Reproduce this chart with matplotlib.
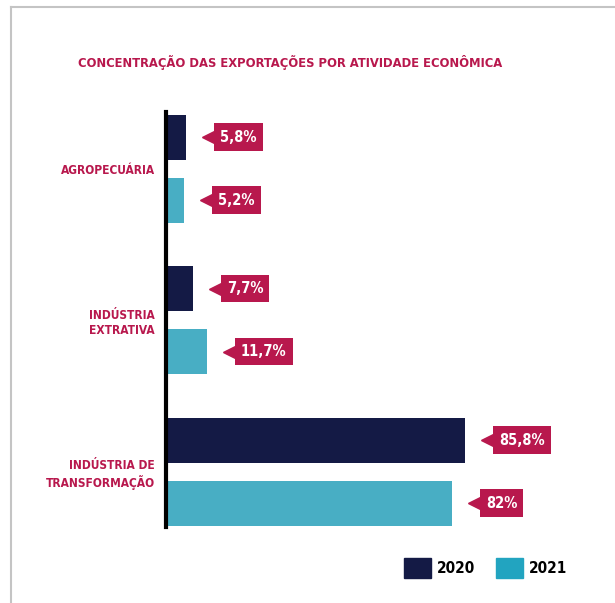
import matplotlib
matplotlib.use('Agg')
import matplotlib.pyplot as plt
from matplotlib.lines import Line2D
from matplotlib.patches import Patch
from matplotlib import transforms
import numpy

categories = ['AGROPECUÁRIA', 'INDÚSTRIA\nEXTRATIVA', 'INDÚSTRIA DE\nTRANSFORMAÇÃO']
values_2020 = [5.8, 7.7, 85.8]
values_2021 = [5.2, 11.7, 82.0]
labels_2020 = ['5,8%', '7,7%', '85,8%']
labels_2021 = ['5,2%', '11,7%', '82%']
years = ['2020', '2021']

navy = '#141a45'
teal = '#48aec4'
teal_legend = '#22a4c0'
crimson = '#b8184d'

plt.rcParams['font.family'] = ['DejaVu Sans']
plt.rcParams['font.stretch'] = 'condensed'

fig = plt.figure(figsize=(6.15, 6.03), dpi=100)
W, H = 615.0, 603.0

# axes placed so that the bars land where they are in the original
ax = fig.add_axes([166 / W, 1 - 527 / H, 434 / W, 415 / H])
y = numpy.arange(len(categories))
off = 0.208
bh = 0.297
ax.barh(y - off, values_2020, height=bh, color=navy)
ax.barh(y + off, values_2021, height=bh, color=teal)
ax.set_xlim(0, 434 / 3.485)
ax.set_ylim(2.366, -0.373)

for s in ['top', 'right', 'bottom']:
    ax.spines[s].set_visible(False)
ax.spines['left'].set_linewidth(3)
ax.spines['left'].set_color('black')
ax.set_xticks([])
ax.set_yticks(y)
ax.set_yticklabels(categories, color=crimson, fontweight='bold', fontsize=8.6,
                   linespacing=1.25, fontstretch='condensed')
ax.tick_params(axis='y', length=0, pad=8)


def callout(v, yy, txt):
    tri = transforms.offset_copy(ax.transData, fig=fig, x=23, y=0, units='dots')
    ax.plot(v, yy, marker='<', ms=9.5, color=crimson, transform=tri, clip_on=False)
    ax.annotate(txt, (v, yy), xytext=(34, 0), textcoords='offset pixels',
                ha='left', va='center', color='white', fontweight='bold', fontsize=10.5,
                fontstretch='condensed',
                bbox=dict(boxstyle='square,pad=0.42', fc=crimson, ec='none'))


for i in range(len(categories)):
    callout(values_2020[i], y[i] - off, labels_2020[i])
    callout(values_2021[i], y[i] + off, labels_2021[i])

fig.text(290 / W, 1 - 63 / H, 'CONCENTRAÇÃO DAS EXPORTAÇÕES POR ATIVIDADE ECONÔMICA',
         ha='center', va='center', color=crimson, fontweight='bold', fontsize=9.3,
         fontstretch='condensed')

handles = [Patch(color=navy), Patch(color=teal_legend)]
fig.legend(handles, years, loc='center left', bbox_to_anchor=(404 / W, 1 - 568 / H),
           ncol=2, frameon=False, borderpad=0, borderaxespad=0,
           handlelength=1.77, handleheight=1.57, handletextpad=0.4, columnspacing=1.35,
           prop={'weight': 'bold', 'size': 11, 'stretch': 'condensed'})

# grey frame around the card
fig.add_artist(Line2D([11 / W, 1], [1 - 7 / H, 1 - 7 / H], color='#c4c4c4', lw=1.5))
fig.add_artist(Line2D([11 / W, 11 / W], [0, 1 - 7 / H], color='#c4c4c4', lw=1.5))

fig.savefig('out.png', dpi=100)
